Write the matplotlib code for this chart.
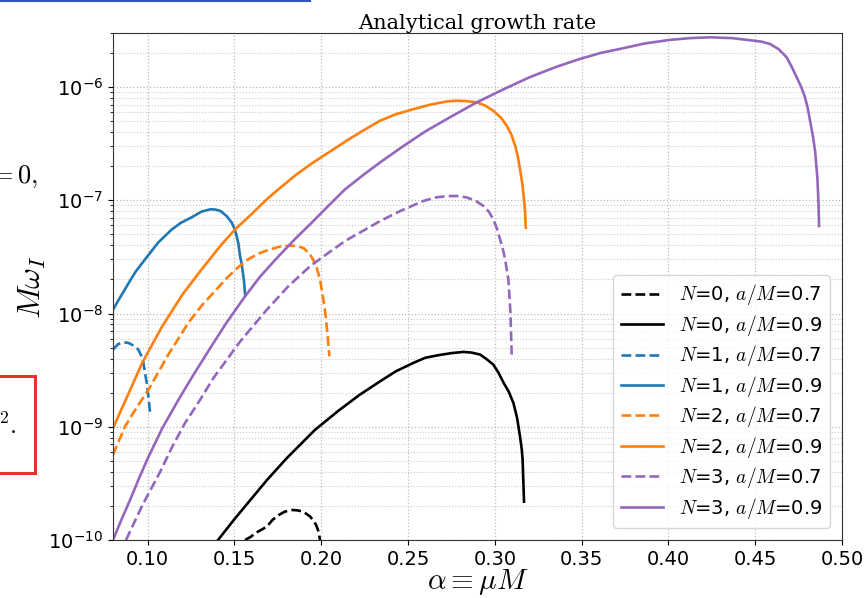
import matplotlib
matplotlib.use("Agg")
import matplotlib.pyplot as plt
from matplotlib.patches import Rectangle
from matplotlib.lines import Line2D

plt.rcParams["mathtext.fontset"] = "cm"

# N=0
n0_07_x = [0.1561, 0.1595, 0.162, 0.165, 0.1686, 0.172, 0.176, 0.179, 0.183, 0.186,
           0.189, 0.191, 0.1936, 0.1955, 0.197, 0.1983, 0.1993]
n0_07_y = [1.0e-10, 1.07e-10, 1.15e-10, 1.22e-10, 1.31e-10, 1.51e-10, 1.68e-10, 1.78e-10, 1.84e-10, 1.83e-10,
           1.79e-10, 1.72e-10, 1.61e-10, 1.48e-10, 1.36e-10, 1.20e-10, 1.0e-10]
n0_09_x = [0.1405, 0.150, 0.160, 0.1688, 0.180, 0.1964, 0.210, 0.222, 0.2339, 0.243,
           0.253, 0.260, 0.268, 0.275, 0.2819, 0.2865, 0.2915, 0.295, 0.2991, 0.302,
           0.305, 0.308, 0.3107, 0.3128, 0.3145, 0.3155, 0.3160, 0.3168]
n0_09_y = [1.0e-10, 1.53e-10, 2.34e-10, 3.40e-10, 5.26e-10, 9.40e-10, 1.39e-9, 1.91e-9, 2.52e-9, 3.09e-9,
           3.66e-9, 4.07e-9, 4.30e-9, 4.47e-9, 4.58e-9, 4.52e-9, 4.34e-9, 3.98e-9, 3.54e-9, 3.02e-9,
           2.45e-9, 2.04e-9, 1.62e-9, 1.20e-9, 8.20e-10, 6.31e-10, 5.1e-10, 2.18e-10]

# N=1
n1_07_x = [0.08, 0.083, 0.086, 0.089, 0.0925, 0.0946, 0.0965, 0.0975, 0.0995, 0.1005, 0.1014]
n1_07_y = [4.80e-9, 5.37e-9, 5.57e-9, 5.50e-9, 5.13e-9, 4.80e-9, 4.17e-9, 3.66e-9, 2.40e-9, 1.78e-9, 1.32e-9]
n1_09_x = [0.08, 0.084, 0.088, 0.093, 0.0985, 0.106, 0.1139, 0.119, 0.125, 0.131,
           0.136, 0.139, 0.142, 0.1455, 0.1484, 0.1497, 0.151, 0.1522, 0.1532, 0.1541,
           0.1548, 0.1555, 0.1561]
n1_09_y = [1.08e-8, 1.38e-8, 1.75e-8, 2.34e-8, 3.01e-8, 4.23e-8, 5.53e-8, 6.31e-8, 7.03e-8, 7.94e-8,
           8.32e-8, 8.28e-8, 8.04e-8, 7.24e-8, 6.35e-8, 5.75e-8, 5.01e-8, 4.17e-8, 3.21e-8, 2.75e-8,
           2.31e-8, 1.91e-8, 1.47e-8]

# N=2
n2_07_x = [0.08, 0.087, 0.094, 0.1004, 0.112, 0.1235, 0.131, 0.1388, 0.146, 0.1522,
           0.158, 0.164, 0.170, 0.176, 0.182, 0.1865, 0.190, 0.1935, 0.1955, 0.1974,
           0.1995, 0.2012, 0.2025, 0.2035, 0.2047]
n2_07_y = [5.65e-10, 1.01e-9, 1.51e-9, 2.12e-9, 4.37e-9, 8.32e-9, 1.17e-8, 1.58e-8, 2.09e-8, 2.57e-8,
           3.02e-8, 3.39e-8, 3.67e-8, 3.89e-8, 3.98e-8, 3.94e-8, 3.76e-8, 3.33e-8, 2.95e-8, 2.54e-8,
           1.91e-8, 1.33e-8, 9.55e-9, 6.76e-9, 4.19e-9]
n2_09_x = [0.08, 0.088, 0.0968, 0.108, 0.120, 0.1303, 0.142, 0.1503, 0.160, 0.1686,
           0.1753, 0.185, 0.195, 0.205, 0.215, 0.224, 0.2339, 0.243, 0.2531, 0.263,
           0.2723, 0.278, 0.284, 0.2896, 0.2945, 0.2991, 0.3035, 0.3069, 0.3095, 0.3117,
           0.3132, 0.3145, 0.3158, 0.3168, 0.3174, 0.3178]
n2_09_y = [9.73e-10, 1.82e-9, 3.66e-9, 7.55e-9, 1.47e-8, 2.37e-8, 3.98e-8, 5.53e-8, 7.59e-8, 1.02e-7,
           1.25e-7, 1.66e-7, 2.14e-7, 2.69e-7, 3.39e-7, 4.12e-7, 5.04e-7, 5.75e-7, 6.38e-7, 7.00e-7,
           7.46e-7, 7.57e-7, 7.50e-7, 7.33e-7, 6.84e-7, 6.17e-7, 5.37e-7, 4.54e-7, 3.80e-7, 3.03e-7,
           2.45e-7, 1.88e-7, 1.41e-7, 1.02e-7, 7.94e-8, 5.73e-8]

# N=3
n3_07_x = [0.0875, 0.097, 0.1071, 0.114, 0.1215, 0.1302, 0.1379, 0.153, 0.1686, 0.181,
           0.1936, 0.2036, 0.2137, 0.224, 0.2339, 0.2455, 0.2588, 0.266, 0.2732, 0.2785,
           0.2838, 0.289, 0.2934, 0.2965, 0.2991, 0.3012, 0.303, 0.3046, 0.3059, 0.3078,
           0.3090, 0.3097]
n3_07_y = [1.0e-10, 2.04e-10, 3.98e-10, 6.61e-10, 1.08e-9, 1.73e-9, 2.70e-9, 5.6e-9, 1.08e-8, 1.74e-8,
           2.62e-8, 3.39e-8, 4.37e-8, 5.37e-8, 6.56e-8, 8.04e-8, 9.86e-8, 1.06e-7, 1.09e-7, 1.09e-7,
           1.06e-7, 9.89e-8, 8.91e-8, 7.94e-8, 6.79e-8, 5.62e-8, 4.52e-8, 3.72e-8, 3.01e-8, 2.00e-8,
           1.0e-8, 4.34e-9]
n3_09_x = [0.08, 0.085, 0.09, 0.095, 0.10, 0.1085, 0.1177, 0.126, 0.135, 0.145,
           0.1561, 0.165, 0.175, 0.185, 0.195, 0.204, 0.2137, 0.2239, 0.2339, 0.247,
           0.26, 0.275, 0.2896, 0.305, 0.32, 0.335, 0.349, 0.361, 0.3721, 0.386,
           0.401, 0.412, 0.424, 0.437, 0.4489, 0.454, 0.4585, 0.4635, 0.4681, 0.471,
           0.4739, 0.4765, 0.4787, 0.4803, 0.4816, 0.4832, 0.4845, 0.4858, 0.4864, 0.4868]
n3_09_y = [1.0e-10, 1.53e-10, 2.29e-10, 3.51e-10, 5.25e-10, 9.77e-10, 1.73e-9, 2.82e-9, 4.68e-9, 8.13e-9,
           1.42e-8, 2.14e-8, 3.16e-8, 4.57e-8, 6.46e-8, 8.91e-8, 1.25e-7, 1.66e-7, 2.16e-7, 2.99e-7,
           4.06e-7, 5.50e-7, 7.33e-7, 9.55e-7, 1.22e-6, 1.50e-6, 1.77e-6, 2.00e-6, 2.17e-6, 2.42e-6,
           2.61e-6, 2.70e-6, 2.75e-6, 2.70e-6, 2.57e-6, 2.51e-6, 2.40e-6, 2.16e-6, 1.83e-6, 1.51e-6,
           1.22e-6, 1.00e-6, 8.11e-7, 6.46e-7, 5.04e-7, 3.72e-7, 2.73e-7, 1.58e-7, 1.00e-7, 5.93e-8]

x_ticks = [0.10, 0.15, 0.20, 0.25, 0.30, 0.35, 0.40, 0.45, 0.50]

series = [
    (n0_07_x, n0_07_y, "black", "--", "$N$=0, $a/M$=0.7"),
    (n0_09_x, n0_09_y, "black", "-", "$N$=0, $a/M$=0.9"),
    (n1_07_x, n1_07_y, "#1f77b4", "--", "$N$=1, $a/M$=0.7"),
    (n1_09_x, n1_09_y, "#1f77b4", "-", "$N$=1, $a/M$=0.9"),
    (n2_07_x, n2_07_y, "#ff7f0e", "--", "$N$=2, $a/M$=0.7"),
    (n2_09_x, n2_09_y, "#ff7f0e", "-", "$N$=2, $a/M$=0.9"),
    (n3_07_x, n3_07_y, "#9467bd", "--", "$N$=3, $a/M$=0.7"),
    (n3_09_x, n3_09_y, "#9467bd", "-", "$N$=3, $a/M$=0.9"),
]

fig = plt.figure(figsize=(8.65, 5.98), dpi=100)
ax = fig.add_axes([113 / 865, 1 - 540 / 598, (842 - 113) / 865, (540 - 33) / 598])

for xs, ys, color, ls, label in series:
    ax.plot(xs, ys, color=color, linestyle=ls, linewidth=1.9, label=label)

ax.set_yscale("log")
ax.set_xlim(0.08, 0.50)
ax.set_ylim(1e-10, 3e-6)
ax.set_xticks(x_ticks)
ax.set_xticklabels([f"{t:.2f}" for t in x_ticks])
ax.tick_params(labelsize=14)
ax.grid(True, which="major", linestyle=":", color="#bbbbbb", linewidth=0.9)
ax.grid(True, which="minor", axis="y", linestyle=":", color="#cccccc", linewidth=0.8)
for s in ax.spines.values():
    s.set_color("#333333")

ax.set_title("Analytical growth rate", family="DejaVu Serif", fontsize=15, pad=3)
ax.set_xlabel(r"$\alpha \equiv \mu M$", fontsize=21, labelpad=-1)
ax.set_ylabel(r"$M\omega_I$", fontsize=23, labelpad=0)
ax.legend(loc="lower right", fontsize=14, handlelength=2.2, labelspacing=0.28,
          borderaxespad=0.6)

# fragments of the surrounding page
fig.add_artist(Line2D([0, 310 / 865], [1 - 1 / 598, 1 - 1 / 598], color="#3355bb", linewidth=1.5))
fig.text(-0.014, 1 - 177 / 598, r"$= 0,$", fontsize=19, va="center", ha="left")
fig.text(-0.002, 1 - 426 / 598, r"$^{2}.$", fontsize=18, va="center", ha="left")
fig.add_artist(Rectangle((-0.01, 1 - 473 / 598), 35 / 865 + 0.01, 97 / 598,
                         transform=fig.transFigure, fill=False, edgecolor="#e8322d", linewidth=2.2))

fig.savefig("out.png", dpi=100)
